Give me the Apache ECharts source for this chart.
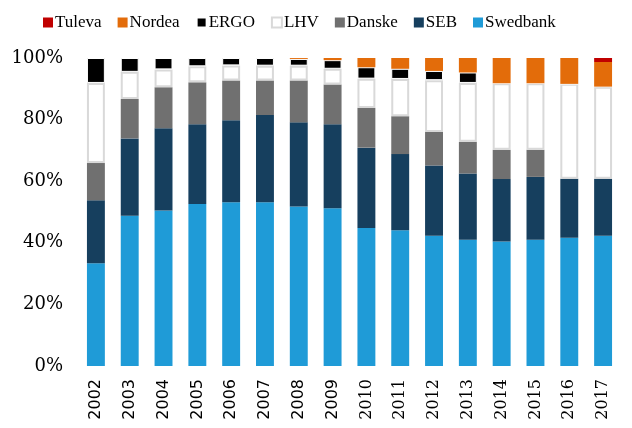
<!DOCTYPE html>
<html>
<head>
<meta charset="utf-8">
<script src="https://cdn.jsdelivr.net/npm/echarts@6/dist/echarts.min.js"></script>
<style>
html,body{margin:0;padding:0;background:#fff;}
#chart{width:632px;height:428px;}
</style>
</head>
<body>
<div id="chart"></div>
<script>
// 年份
var years = ['2002','2003','2004','2005','2006','2007','2008','2009','2010','2011','2012','2013','2014','2015','2016','2017'];
// 各公司份额 (%)
var swedbank = [33.4, 48.8, 50.5, 52.6, 53.2, 53.2, 51.8, 51.2, 44.8, 44.1, 42.3, 41.0, 40.4, 41.0, 41.6, 42.3];
var seb      = [20.4, 25.1, 26.7, 25.9, 26.6, 28.3, 27.3, 27.3, 26.1, 24.7, 22.8, 21.5, 20.3, 20.4, 19.2, 18.5];
var danske   = [12.1, 12.8, 13.3, 13.6, 12.9, 11.2, 13.6, 12.9, 12.9, 12.3, 10.9, 10.3, 9.5, 8.8, 0, 0];
var lhv      = [26.0, 8.8, 5.8, 5.2, 4.9, 4.8, 4.8, 5.1, 9.5, 12.1, 16.8, 19.1, 21.6, 21.6, 30.8, 29.9];
var ergo     = [8.1, 4.5, 3.7, 2.7, 2.4, 2.5, 2.2, 2.8, 3.7, 3.3, 3.0, 3.4, 0, 0, 0, 0];
var nordea   = [0, 0, 0, 0, 0, 0, 0.3, 0.7, 3.0, 3.5, 4.2, 4.7, 8.2, 8.2, 8.4, 8.0];
var tuleva   = [0, 0, 0, 0, 0, 0, 0, 0, 0, 0, 0, 0, 0, 0, 0, 1.3];
var yTicks = [0, 20, 40, 60, 80, 100];

var myChart = echarts.init(document.getElementById('chart'));

function bar(name, data, color, extra) {
	var s = {
		name: name,
		type: 'bar',
		stack: 'total',
		barWidth: '53%',
		itemStyle: { color: color },
		data: data
	};
	if (extra) s.itemStyle = extra;
	return s;
}

var option = {
	backgroundColor: '#fff',
	animation: false,
	legend: {
		top: 9,
		left: 38,
		itemWidth: 10,
		itemHeight: 10,
		itemGap: 16,
		icon: 'rect',
		textStyle: { fontFamily: 'Liberation Serif', fontSize: 17, color: '#000', padding: [0, 0, 0, -3] },
		data: ['Tuleva', 'Nordea', 'ERGO', 'LHV', 'Danske', 'SEB', 'Swedbank']
	},
	grid: {
		left: 79,
		right: 12,
		top: 58,
		bottom: 62
	},
	xAxis: {
		type: 'category',
		data: years,
		axisLine: { show: false },
		axisTick: { show: false },
		axisLabel: {
			rotate: 90,
			margin: 13,
			fontFamily: 'DejaVu Serif',
			fontSize: 16,
			color: '#000',
			formatter: function (v) {
				return parseInt(v) < 2010 ? '{s|' + v + '}' : v;
			},
			rich: {
				s: { fontFamily: 'DejaVu Sans', fontSize: 16, color: '#000' }
			}
		}
	},
	yAxis: {
		type: 'value',
		min: yTicks[0],
		max: yTicks[yTicks.length - 1],
		interval: 20,
		axisLine: { show: false },
		axisTick: { show: false },
		splitLine: { show: false },
		axisLabel: {
			margin: 16,
			fontFamily: 'DejaVu Serif',
			fontSize: 18,
			color: '#000',
			formatter: '{value}%'
		}
	},
	series: [
		bar('Swedbank', swedbank, '#1F9BD7'),
		bar('SEB', seb, '#163F5E'),
		bar('Danske', danske, '#707070'),
		bar('LHV', lhv, '#fff', { color: '#fff', borderColor: '#D9D9D9', borderWidth: 2 }),
		bar('ERGO', ergo, '#000', { color: '#000', borderColor: '#fff', borderWidth: 1 }),
		bar('Nordea', nordea, '#E36C0A'),
		bar('Tuleva', tuleva, '#C00000')
	]
};
myChart.setOption(option);
</script>
</body>
</html>
